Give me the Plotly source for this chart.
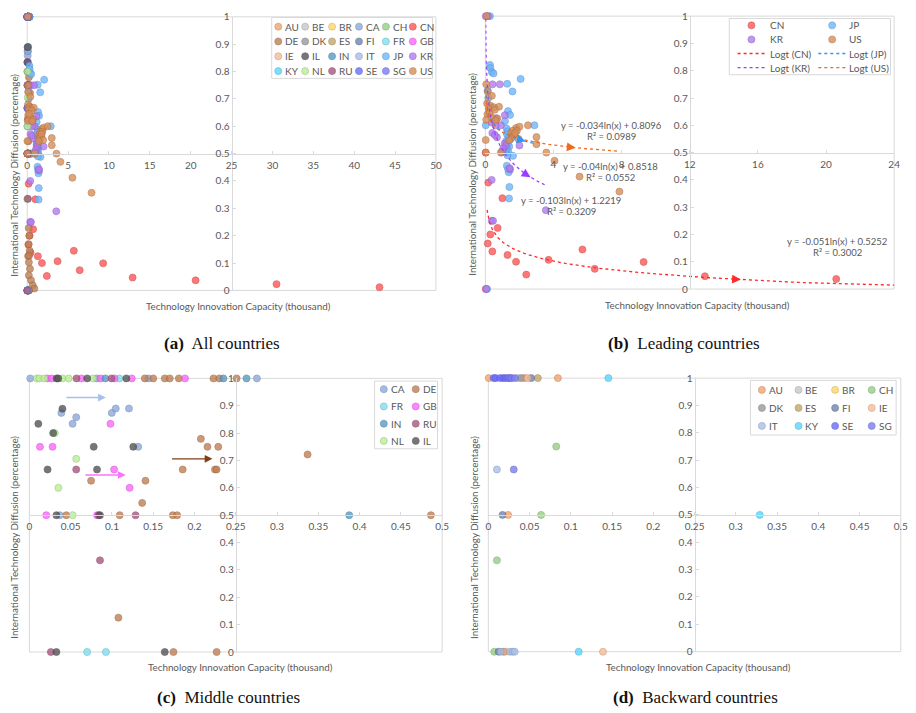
import math
import plotly.graph_objects as go

W, H = 916, 713

# ---------------- categories ----------------
ALL_COUNTRIES = ["AU", "BE", "BR", "CA", "CH", "CN", "DE", "DK", "ES", "FI", "FR", "GB",
                 "IE", "IL", "IN", "IT", "JP", "KR", "KY", "NL", "RU", "SE", "SG", "US"]
LEADING = ["CN", "JP", "KR", "US"]
MIDDLE = ["CA", "DE", "FR", "GB", "IN", "RU", "NL", "IL"]
BACKWARD = ["AU", "BE", "BR", "CH", "DK", "ES", "FI", "IE", "IT", "KY", "SE", "SG"]

COLORS = {
    "AU": "#f4a46f", "BE": "#c8c8c8", "BR": "#ffd666", "CA": "#8eaadb", "CH": "#97cf86",
    "CN": "#ff5656", "DE": "#c08055", "DK": "#999999", "ES": "#c3a865", "FI": "#6f84ad",
    "FR": "#7ee0ef", "GB": "#ff66ff", "IE": "#f8bc98", "IL": "#555555", "IN": "#5a9bc5",
    "IT": "#a9bfe9", "JP": "#6fb7ff", "KR": "#b27bf2", "KY": "#59d8ff", "NL": "#b9f194",
    "RU": "#a8577f", "SE": "#6c6cff", "SG": "#7c7cf7", "US": "#d98e58",
}

# ---------------- data (x: thousand, y: share) ----------------
# Leading countries
CN_X = [0.02, 0.02, 0.17, 1.0, 0.72, 0.29, 0.14, 0.41, 1.3, 1.8, 2.4, 3.71, 5.7, 6.42, 9.29, 12.89, 20.6, 30.5, 43.1]
CN_Y = [0.5, 0.0, 0.39, 0.333, 0.224, 0.2, 0.167, 0.138, 0.125, 0.1, 0.053, 0.107, 0.145, 0.074, 0.099, 0.047, 0.037, 0.023, 0.012]

JP_X = [0.27, 0.29, 0.38, 0.48, 2.07, 1.28, 1.59, 0.14, 0.17, 1.33, 1.45, 1.15, 0.02, 2.88, 1.25, 1.3, 1.27,
        1.35, 1.22, 1.3, 1.4, 1.27, 1.35, 0.95, 1.62, 1.26, 1.33, 1.37, 1.41, 1.39, 0.1, 0.27, 1.45, 1.2, 1.3]
JP_Y = [0.821, 0.81, 0.795, 0.79, 0.77, 0.752, 0.724, 0.728, 0.70, 0.652, 0.638, 0.615, 0.6, 0.6, 0.588, 0.578, 0.567,
        0.556, 0.542, 0.53, 0.522, 0.512, 0.502, 0.5, 0.488, 0.452, 0.44, 0.428, 0.374, 0.332, 0.0, 1.0, 0.548, 0.5, 0.49]

KR_X = [0.02, 0.15, 0.42, 0.85, 1.14, 0.64, 0.91, 0.37, 0.68, 0.41, 1.14, 1.2, 1.05, 1.0, 2.0, 1.45, 1.43,
        0.37, 0.37, 0.45, 3.55, 0.6, 0.55, 0.06]
KR_Y = [1.0, 1.0, 0.75, 0.75, 0.637, 0.626, 0.6, 0.61, 0.556, 0.572, 0.534, 0.527, 0.515, 0.505, 0.526, 0.438, 0.443,
        0.4, 0.25, 0.25, 0.289, 0.6, 0.565, 0.0]

US_X = [0.05, 0.13, 0.38, 0.1, 0.3, 0.5, 0.8, 0.2, 0.55, 0.12, 0.35, 0.05, 0.7, 0.6, 0.25, 0.02, 1.8, 2.0, 2.5,
        1.6, 1.5, 1.7, 1.55, 1.85, 1.75, 3.0, 3.0, 3.58, 4.06, 5.53, 7.87, 0.91, 1.95, 1.4, 0.02, 0.08]
US_Y = [0.75, 0.724, 0.708, 0.68, 0.672, 0.666, 0.668, 0.66, 0.657, 0.64, 0.63, 0.62, 0.625, 0.618, 0.645, 0.546, 0.59, 0.595, 0.6,
        0.58, 0.57, 0.565, 0.555, 0.58, 0.572, 0.557, 0.531, 0.5, 0.47, 0.412, 0.357, 0.5, 0.55, 0.545, 0.5, 1.0]

# Middle countries
CA_X = [0.001, 0.0815, 0.1441, 0.2756, 0.0387, 0.0567, 0.0523, 0.0998, 0.1046, 0.1206, 0.1318, 0.0367]
CA_Y = [1, 1, 1, 1, 0.874, 0.858, 0.834, 0.874, 0.89, 0.89, 0.75, 0.5]
DE_X = [0.1398, 0.15, 0.164, 0.17, 0.181, 0.223, 0.23, 0.251, 0.2077, 0.2157, 0.2288, 0.1857, 0.2248, 0.2268,
        0.0747, 0.1406, 0.1366, 0.337, 0.0447, 0.1094, 0.1737, 0.179, 0.4864, 0.1078, 0.1745, 0.2268]
DE_Y = [1, 1, 1, 1, 1, 1, 1, 1, 0.779, 0.75, 0.75, 0.667, 0.667, 0.667,
        0.626, 0.626, 0.545, 0.722, 0.5, 0.5, 0.5, 0.5, 0.5, 0.1256, 0, 0]
FR_X = [0.109, 0.0699, 0.0927]
FR_Y = [1, 0, 0]
GB_X = [0.022, 0.027, 0.063, 0.086, 0.103, 0.124, 0.1885, 0.0128, 0.028, 0.0982, 0.1026, 0.1214, 0.0204, 0.0819]
GB_Y = [1, 1, 1, 1, 1, 1, 1, 0.75, 0.75, 0.834, 0.667, 0.6, 0.5, 0.5]
IN_X = [0.092, 0.235, 0.263, 0.3874]
IN_Y = [1, 1, 1, 0.5]
RU_X = [0.057, 0.0995, 0.0567, 0.0855, 0.1286, 0.0839, 0.026]
RU_Y = [1, 1, 0.667, 0.335, 0.5, 0.5, 0]
NL_X = [0.009, 0.012, 0.018, 0.040, 0.0475, 0.077, 0.0308, 0.0567, 0.0351, 0.0523]
NL_Y = [1, 1, 1, 1, 1, 1, 0.8, 0.706, 0.6, 0.5]
IL_X = [0.033, 0.035, 0.070, 0.1174, 0.04, 0.0108, 0.0288, 0.0779, 0.1258, 0.022, 0.0819, 0.0327, 0.0855, 0.0327, 0.164]
IL_Y = [1, 1, 1, 1, 0.889, 0.834, 0.8, 0.75, 0.75, 0.667, 0.667, 0.5, 0.5, 0, 0]

# Backward countries
AU_X = [0.0004, 0.044, 0.0843, 0.024, 0.018, 0.0204]
AU_Y = [1, 1, 1, 0.5, 0, 0]
BE_X = [0.036]
BE_Y = [1]
BR_X = []
BR_Y = []
CH_X = [0.0823, 0.064, 0.0104, 0.0072]
CH_Y = [0.75, 0.5, 0.334, 0]
DK_X = [0.04]
DK_Y = [1]
ES_X = [0.06]
ES_Y = [1]
FI_X = [0.052, 0.0172, 0.0124]
FI_Y = [1, 0.5, 0]
IE_X = [0.0475, 0.139]
IE_Y = [1, 0]
IT_X = [0.0104, 0.026, 0.0295, 0.032, 0.015]
IT_Y = [0.666, 0, 0, 0, 0]
KY_X = [0.1455, 0.329, 0.1095]
KY_Y = [1, 0.5, 0]
SE_X = [0.0065, 0.009, 0.0144, 0.018, 0.021]
SE_Y = [1, 1, 1, 1, 1]
SG_X = [0.024, 0.026, 0.028, 0.032, 0.0308]
SG_Y = [1, 1, 1, 1, 0.666]

# extra DE observations visible only in the all-country panel
DE_ALL_X = [0.18, 0.25, 0.18, 0.3, 0.22, 0.2, 0.34, 0.2, 0.46, 0.67, 0.87]
DE_ALL_Y = [0.228, 0.2, 0.169, 0.145, 0.127, 0.103, 0.079, 0.055, 0.037, 0.019, 0.007]

# logarithmic trend lines (x in the fit is in raw units)
TREND_SLOPE = [-0.051, -0.04, -0.103, -0.034]
TREND_INTERCEPT = [0.5252, 0.8518, 1.2219, 0.8096]
TREND_R2 = [0.3002, 0.0552, 0.3209, 0.0989]
TREND_XMIN = [0.1, 0.02, 0.005, 0.02]
TREND_XMAX = [43.1, 2.88, 3.55, 7.87]
TREND_COLORS = ["#ff2a2a", "#2f95ff", "#9b3dff", "#f06a1e"]
TREND_ARROW_X = [15.0, 2.36, 2.65, 5.3]

XS = {c: globals()[c + "_X"] for c in ALL_COUNTRIES}
YS = {c: globals()[c + "_Y"] for c in ALL_COUNTRIES}

# ---------------- styling / layout constants ----------------
AXIS = "#d9d9d9"
TXT = "#595959"
FONT = "Lato"
MS = 7
TF = 10

PANELS = [
    dict(left=24.5, right=437.7, top=10.0, bottom=288.7, xmax=50, dtick=5),
    dict(left=487.7, right=901.0, top=9.3, bottom=287.3, xmax=24, dtick=4),
    dict(left=26.7, right=444.0, top=378.3, bottom=657.0, xmax=0.5, dtick=0.05),
    dict(left=490.7, right=907.7, top=378.0, bottom=656.7, xmax=0.5, dtick=0.05),
]


def shade(hexc, f):
    h = hexc.lstrip("#")
    r, g, b = (int(h[i:i + 2], 16) for i in (0, 2, 4))
    return "#%02x%02x%02x" % (int(r * f), int(g * f), int(b * f))


def mk(c):
    return dict(size=MS, color=COLORS[c], opacity=0.8, line=dict(color=shade(COLORS[c], 0.8), width=0.7))


fig = go.Figure()
layout = dict(width=W, height=H, margin=dict(l=0, r=0, t=0, b=0), autosize=False,
              paper_bgcolor="white", plot_bgcolor="rgba(0,0,0,0)", showlegend=False,
              font=dict(family=FONT, color=TXT, size=10))
shapes, annots = [], []

for i, p in enumerate(PANELS, start=1):
    xd = [p["left"] / W, p["right"] / W]
    yd = [1 - p["bottom"] / H, 1 - p["top"] / H]
    sx = "" if i == 1 else str(i)
    layout["xaxis" + sx] = dict(domain=xd, range=[0, p["xmax"]], tick0=0, dtick=p["dtick"],
                                anchor="free", position=(yd[0] + yd[1]) / 2, showline=True,
                                linecolor=AXIS, linewidth=1, ticks="inside", ticklen=3, tickcolor=AXIS,
                                showgrid=False, zeroline=False, fixedrange=True,
                                tickfont=dict(size=TF, color=TXT, family=FONT), ticklabelstandoff=2)
    layout["yaxis" + sx] = dict(domain=yd, range=[0, 1], tick0=0, dtick=0.1,
                                anchor="free", position=(xd[0] + xd[1]) / 2, showline=True,
                                linecolor=AXIS, linewidth=1, ticks="inside", ticklen=3, tickcolor=AXIS,
                                showgrid=False, zeroline=False, fixedrange=True,
                                tickfont=dict(size=TF, color=TXT, family=FONT))
    shapes.append(dict(type="rect", xref="x%s domain" % sx, yref="y%s domain" % sx, x0=0, x1=1, y0=0, y1=1,
                       line=dict(color=AXIS, width=1), layer="below"))

# pixel overlay axes for legends / labels
layout["xaxis5"] = dict(domain=[0, 1], range=[0, W], visible=False, fixedrange=True)
layout["yaxis5"] = dict(domain=[0, 1], range=[H, 0], visible=False, fixedrange=True)

# ---------------- panel (a): all countries ----------------
for c in ALL_COUNTRIES:
    x = XS[c] + (DE_ALL_X if c == "DE" else [])
    y = YS[c] + (DE_ALL_Y if c == "DE" else [])
    fig.add_trace(go.Scatter(x=x, y=y, mode="markers", marker=mk(c), name=c, cliponaxis=False,
                             xaxis="x", yaxis="y"))


def add_group(countries, idx, xmax):
    for c in countries:
        pts = [(a, b) for a, b in zip(XS[c], YS[c]) if a <= xmax]
        fig.add_trace(go.Scatter(x=[q[0] for q in pts], y=[q[1] for q in pts], mode="markers",
                                 marker=mk(c), name=c, cliponaxis=False,
                                 xaxis="x%d" % idx, yaxis="y%d" % idx))


# ---------------- panel (b): leading ----------------
add_group(LEADING, 2, PANELS[1]["xmax"])
pb = PANELS[1]
psx = (pb["right"] - pb["left"]) / pb["xmax"]
psy = (pb["bottom"] - pb["top"])
for k, c in enumerate(LEADING):
    a, b = TREND_SLOPE[k], TREND_INTERCEPT[k]
    n = 160
    lx = [TREND_XMIN[k] * (TREND_XMAX[k] / TREND_XMIN[k]) ** (j / (n - 1)) for j in range(n)]
    ly = [a * math.log(v * 1000) + b for v in lx]
    fig.add_trace(go.Scatter(x=lx, y=ly, mode="lines", line=dict(color=TREND_COLORS[k], width=1.3, dash="dot"),
                             name="Logt (%s)" % c, xaxis="x2", yaxis="y2"))
    # arrow head along the trend line
    xt = TREND_ARROW_X[k]
    yt = a * math.log(xt * 1000) + b
    ux, uy = psx, -psy * a / xt
    L = math.hypot(ux, uy)
    ux, uy = ux / L, uy / L
    annots.append(dict(x=xt, y=yt, xref="x2", yref="y2", ax=-6 * ux, ay=-6 * uy, axref="pixel", ayref="pixel",
                       text="", showarrow=True, arrowhead=2, arrowsize=1.6, arrowwidth=1.1,
                       arrowcolor=TREND_COLORS[k], standoff=0))

EQ_POS = {"CN": (843.3, 238.7), "JP": (614.3, 162.3), "KR": (574.3, 196.7), "US": (615.7, 120.3)}
for k, c in enumerate(LEADING):
    ex, ey = EQ_POS[c]
    annots.append(dict(x=ex, y=ey, xref="x5", yref="y5", showarrow=False,
                       text="y = %gln(x) + %.4f" % (TREND_SLOPE[k], TREND_INTERCEPT[k]),
                       font=dict(size=9.5, color=TXT, family=FONT)))
    annots.append(dict(x=ex, y=ey + 11.2, xref="x5", yref="y5", showarrow=False,
                       text="R² = %.4f" % TREND_R2[k], font=dict(size=9.5, color=TXT, family=FONT)))

# ---------------- panel (c): middle ----------------
add_group(MIDDLE, 3, PANELS[2]["xmax"])
C_ARROWS = [(0.043, 0.0926, 0.93, "#a8c0ea"), (0.066, 0.1166, 0.647, "#ff70ff"), (0.171, 0.2217, 0.706, "#7f3f16")]
for x0, x1, yy, col in C_ARROWS:
    annots.append(dict(x=x1, y=yy, ax=x0, ay=yy, xref="x3", yref="y3", axref="x3", ayref="y3",
                       text="", showarrow=True, arrowhead=2, arrowsize=1.1, arrowwidth=1.4,
                       arrowcolor=col, standoff=0))

# ---------------- panel (d): backward ----------------
add_group(BACKWARD, 4, PANELS[3]["xmax"])


# ---------------- custom legends ----------------
def legend_box(x0, y0, x1, y1):
    shapes.append(dict(type="rect", xref="x5", yref="y5", x0=x0, y0=y0, x1=x1, y1=y1,
                       line=dict(color=AXIS, width=1), layer="below"))


def legend(entries, box, col_x, row_y0, row_dy, ncols, text_dx=5):
    legend_box(*box)
    mx, my, mc, ml = [], [], [], []
    for i, c in enumerate(entries):
        r, cc = divmod(i, ncols)
        x, y = col_x[cc], row_y0 + r * row_dy
        mx.append(x); my.append(y); mc.append(COLORS[c]); ml.append(shade(COLORS[c], 0.8))
        annots.append(dict(x=x + text_dx, y=y, xref="x5", yref="y5", text=c, showarrow=False,
                           xanchor="left", yanchor="middle", font=dict(size=TF, color=TXT, family=FONT)))
    fig.add_trace(go.Scatter(x=mx, y=my, mode="markers", xaxis="x5", yaxis="y5", hoverinfo="skip",
                             marker=dict(size=MS, color=mc, opacity=0.8, line=dict(color=ml, width=0.7))))


legend(ALL_COUNTRIES, (271.7, 10.7, 434.3, 72.7), [278.3 + 27.2 * j for j in range(6)], 20.0, 15.1, 6)
legend(MIDDLE, (375.7, 381.0, 439.3, 450.0), [385.0, 417.3], 389.3, 17.55, 2)
legend(BACKWARD, (755.7, 380.3, 903.0, 436.0), [767.3 + 37.0 * j for j in range(4)], 390.0, 18.35, 4)

# legend (b): markers + trend line samples
bx = [756.7, 838.3]
btx = [773.3, 853.3]
by0, bdy = 18.7, 14.33
legend_box(734.3, 11.7, 897.3, 69.0)
mx, my, mc, ml = [], [], [], []
for i, c in enumerate(LEADING):
    r, cc = divmod(i, 2)
    mx.append(bx[cc]); my.append(by0 + r * bdy); mc.append(COLORS[c]); ml.append(shade(COLORS[c], 0.8))
    annots.append(dict(x=btx[cc], y=by0 + r * bdy, xref="x5", yref="y5", text=c, showarrow=False,
                       xanchor="left", yanchor="middle", font=dict(size=TF, color=TXT, family=FONT)))
fig.add_trace(go.Scatter(x=mx, y=my, mode="markers", xaxis="x5", yaxis="y5", hoverinfo="skip",
                         marker=dict(size=MS, color=mc, opacity=0.8, line=dict(color=ml, width=0.7))))
for k, c in enumerate(LEADING):
    r, cc = divmod(k + 4, 2)
    yy = by0 + r * bdy
    fig.add_trace(go.Scatter(x=[bx[cc] - 14, bx[cc] + 14], y=[yy, yy], mode="lines", xaxis="x5", yaxis="y5",
                             hoverinfo="skip", line=dict(color=TREND_COLORS[k], width=1.3, dash="dot")))
    annots.append(dict(x=btx[cc], y=yy, xref="x5", yref="y5", text="Logt (%s)" % c, showarrow=False,
                       xanchor="left", yanchor="middle", font=dict(size=TF, color=TXT, family=FONT)))

# ---------------- axis titles & captions ----------------
XT = "Technology Innovation Capacity (thousand)"
YT = "International Technology Diffusion (percentage)"
for (xx, yy) in [(238, 305), (702, 303.5), (240, 672.3), (703, 672.3)]:
    annots.append(dict(x=xx, y=yy, xref="x5", yref="y5", text=XT, showarrow=False,
                       font=dict(size=9.8, color=TXT, family=FONT)))
for (xx, yy) in [(11, 171), (474, 170), (11.7, 540), (476, 540)]:
    annots.append(dict(x=xx, y=yy, xref="x5", yref="y5", text=YT, showarrow=False, textangle=-90,
                       font=dict(size=9.8, color=TXT, family=FONT)))
CAPTIONS = [("(a)", "All countries"), ("(b)", "Leading countries"), ("(c)", "Middle countries"),
            ("(d)", "Backward countries")]
for (lab, txt), (xx, yy) in zip(CAPTIONS, [(221, 343), (689, 343), (228, 703), (700, 703)]):
    annots.append(dict(x=xx, y=yy, xref="x5", yref="y5", text="<b>%s</b>  %s" % (lab, txt), showarrow=False,
                       font=dict(size=17, color="#111111", family="Liberation Serif")))

layout["shapes"] = shapes
layout["annotations"] = annots
fig.update_layout(**layout)

fig.write_html("out.html", config={"displayModeBar": False},
               post_script="document.body.style.margin='0';document.body.style.overflow='hidden';")
